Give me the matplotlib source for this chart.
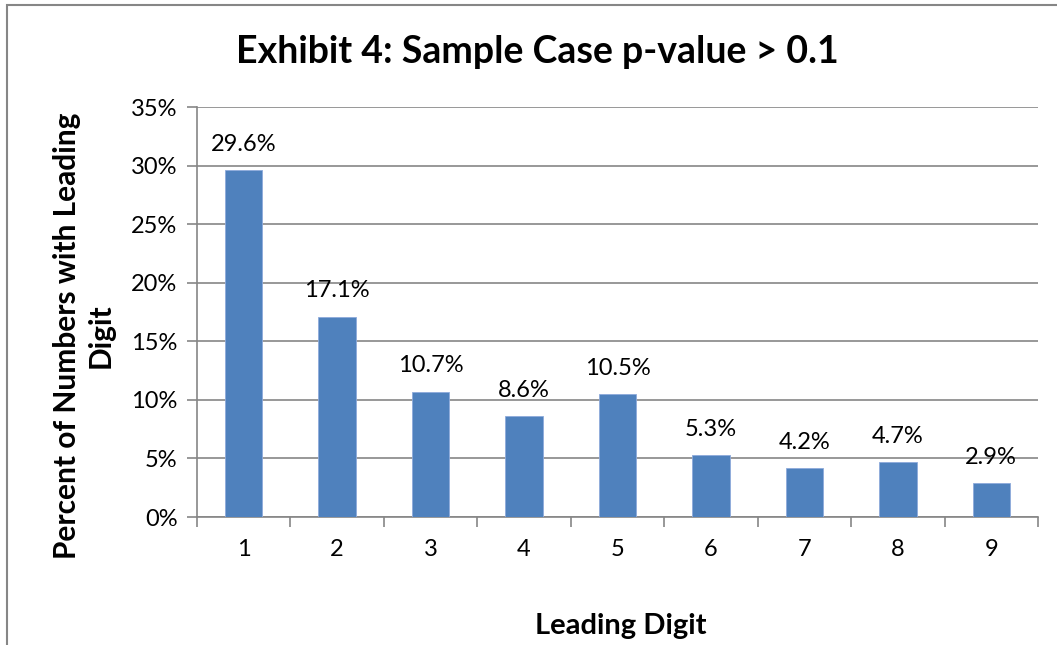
#!/usr/bin/env python3
# coding: utf-8
import matplotlib
matplotlib.use('Agg')
import matplotlib.pyplot as plt
from matplotlib.patches import Rectangle
from matplotlib.ticker import FuncFormatter, FixedLocator

digits = ['1', '2', '3', '4', '5', '6', '7', '8', '9']
percents = [29.6, 17.1, 10.7, 8.6, 10.5, 5.3, 4.2, 4.7, 2.9]

C_BAR = '#4F81BD'
C_GRID = '#868686'

plt.rcParams['font.family'] = ['Lato', 'DejaVu Sans']

fig = plt.figure(figsize=(10.57, 6.45), dpi=100)
ax = fig.add_axes([0.1864, 0.1984, 0.7956, 0.6356])

x = list(range(len(digits)))
ax.bar(x, percents, width=0.4, color=C_BAR, edgecolor='#8EAADB', linewidth=0.6, zorder=3)
for xi, v in zip(x, percents):
    ax.annotate(f'{v:.1f}%', (xi, v), xytext=(0, 11), textcoords='offset points',
                ha='center', va='bottom', fontsize=17, zorder=4)

ax.set_xlim(-0.5, len(digits) - 0.5)
ax.set_ylim(0, 35)
ax.set_yticks(range(0, 36, 5))
ax.yaxis.set_major_formatter(FuncFormatter(lambda v, p: f'{int(v)}%'))
ax.grid(axis='y', color=C_GRID, linewidth=1.2, zorder=0)

ax.set_xticks(x)
ax.set_xticklabels(digits)
ax.xaxis.set_minor_locator(FixedLocator([i - 0.5 for i in range(len(digits) + 1)]))
ax.tick_params(axis='x', which='major', length=0, pad=16, labelsize=17)
ax.tick_params(axis='x', which='minor', length=7, width=1.2, color=C_GRID, direction='out')
ax.tick_params(axis='y', length=7, width=1.2, color=C_GRID, pad=7, labelsize=17)

for side in ('top', 'right'):
    ax.spines[side].set_visible(False)
for side in ('left', 'bottom'):
    ax.spines[side].set_color(C_GRID)
    ax.spines[side].set_linewidth(1.2)

fig.text(0.508, 0.92, 'Exhibit 4: Sample Case p-value > 0.1', ha='center', va='center',
         fontsize=27, fontweight='bold')
fig.text(0.079, 0.479, 'Percent of Numbers with Leading\nDigit', ha='center', va='center',
         rotation=90, fontsize=21.5, fontweight='bold', linespacing=1.25)
fig.text(0.587, 0.03, 'Leading Digit', ha='center', va='center',
         fontsize=21, fontweight='bold')

# chart frame, only the top and left edges fall inside the picture
fig.patches.append(Rectangle((7 / 1057, -0.1), 1.5, 1.0922, transform=fig.transFigure,
                             fill=False, edgecolor=C_GRID, linewidth=1.5))

fig.savefig('out.png', dpi=100)
